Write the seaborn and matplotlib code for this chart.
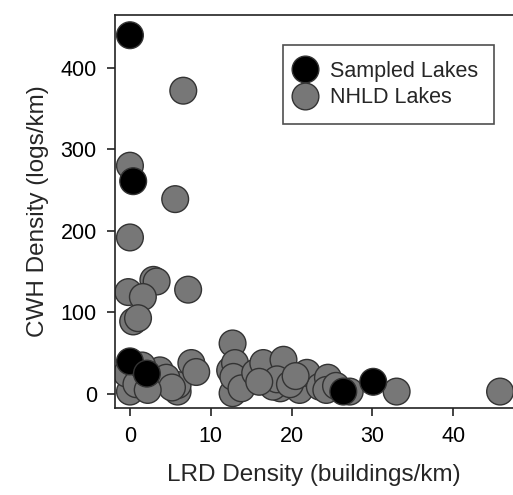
import pandas as pd
import seaborn as sns
import matplotlib.pyplot as plt

# NHLD lakes (grey)
nhld_lrd = [6.6, 0.0, 5.6, 0.0, -0.2, 2.9, 3.3, 1.6, 7.2, 0.4, 1.0,
            0.0, 3.7, 5.9, 5.9, 7.6, 8.2, -0.4, 2.9, 0.8, 1.5, 4.5, 5.2, 2.2,
            12.7, 12.4, 13.2, 12.7, 13.0, 12.8, 13.8, 15.5, 16.5, 19.0,
            18.6, 17.7, 21.0, 21.9, 23.5, 24.5, 24.3, 27.2, 33.0, 45.8,
            18.2, 19.8, 20.5, 16.0, 25.5]
nhld_cwh = [372, 280, 239, 192, 125, 140, 138, 119, 128, 89, 93,
            3, 29, 3, 11, 38, 27, 25, 17, 12, 35, 20, 8, 5,
            62, 29, 15, 1, 38, 21, 7, 26, 38, 42,
            7, 9, 5, 26, 9, 20, 5, 3, 3, 3,
            18, 12, 22, 15, 10]

# sampled lakes (black)
samp_lrd = [0.0, 0.4, 0.0, 2.1, 26.4, 30.1]
samp_cwh = [440, 261, 40, 25, 3, 15]

df = pd.DataFrame({
    'lrd': nhld_lrd + samp_lrd,
    'cwh': nhld_cwh + samp_cwh,
    'group': ['NHLD Lakes'] * len(nhld_lrd) + ['Sampled Lakes'] * len(samp_lrd),
})

sns.set_style('ticks')
plt.rcParams['font.family'] = ['Liberation Sans', 'DejaVu Sans']

fig = plt.figure(figsize=(5.13, 4.95), dpi=100)
ax = fig.add_axes([0.224, 0.176, 0.776, 0.794])

sns.scatterplot(data=df, x='lrd', y='cwh', hue='group',
                hue_order=['Sampled Lakes', 'NHLD Lakes'],
                palette={'Sampled Lakes': 'black', 'NHLD Lakes': '#777777'},
                s=370, edgecolor='#333333', linewidth=1.0, alpha=1, ax=ax)

ax.set_xlim(-1.86, 47.4)
ax.set_ylim(-17, 465)
ax.set_xticks([0, 10, 20, 30, 40])
ax.set_yticks([0, 100, 200, 300, 400])
ax.tick_params(direction='out', length=6, width=1.2, labelsize=15.5,
               colors='#222222', labelcolor='black', pad=7)
for side in ['left', 'top', 'bottom']:
    ax.spines[side].set_linewidth(1.2)
    ax.spines[side].set_color('#222222')
ax.spines['right'].set_visible(False)

ax.set_xlabel('LRD Density (buildings/km)', fontsize=17.5, labelpad=12)
ax.set_ylabel('CWH Density (logs/km)', fontsize=17.5, labelpad=8)

leg = ax.legend(loc='upper right', bbox_to_anchor=(0.952, 0.924),
                fontsize=15.5, frameon=True, fancybox=False,
                handletextpad=0.9, borderpad=0.75, labelspacing=0.25,
                markerscale=1.0, borderaxespad=0, handlelength=0.5)
leg.get_frame().set_edgecolor('#222222')
leg.get_frame().set_linewidth(1.2)

fig.savefig('out.png', dpi=100)
